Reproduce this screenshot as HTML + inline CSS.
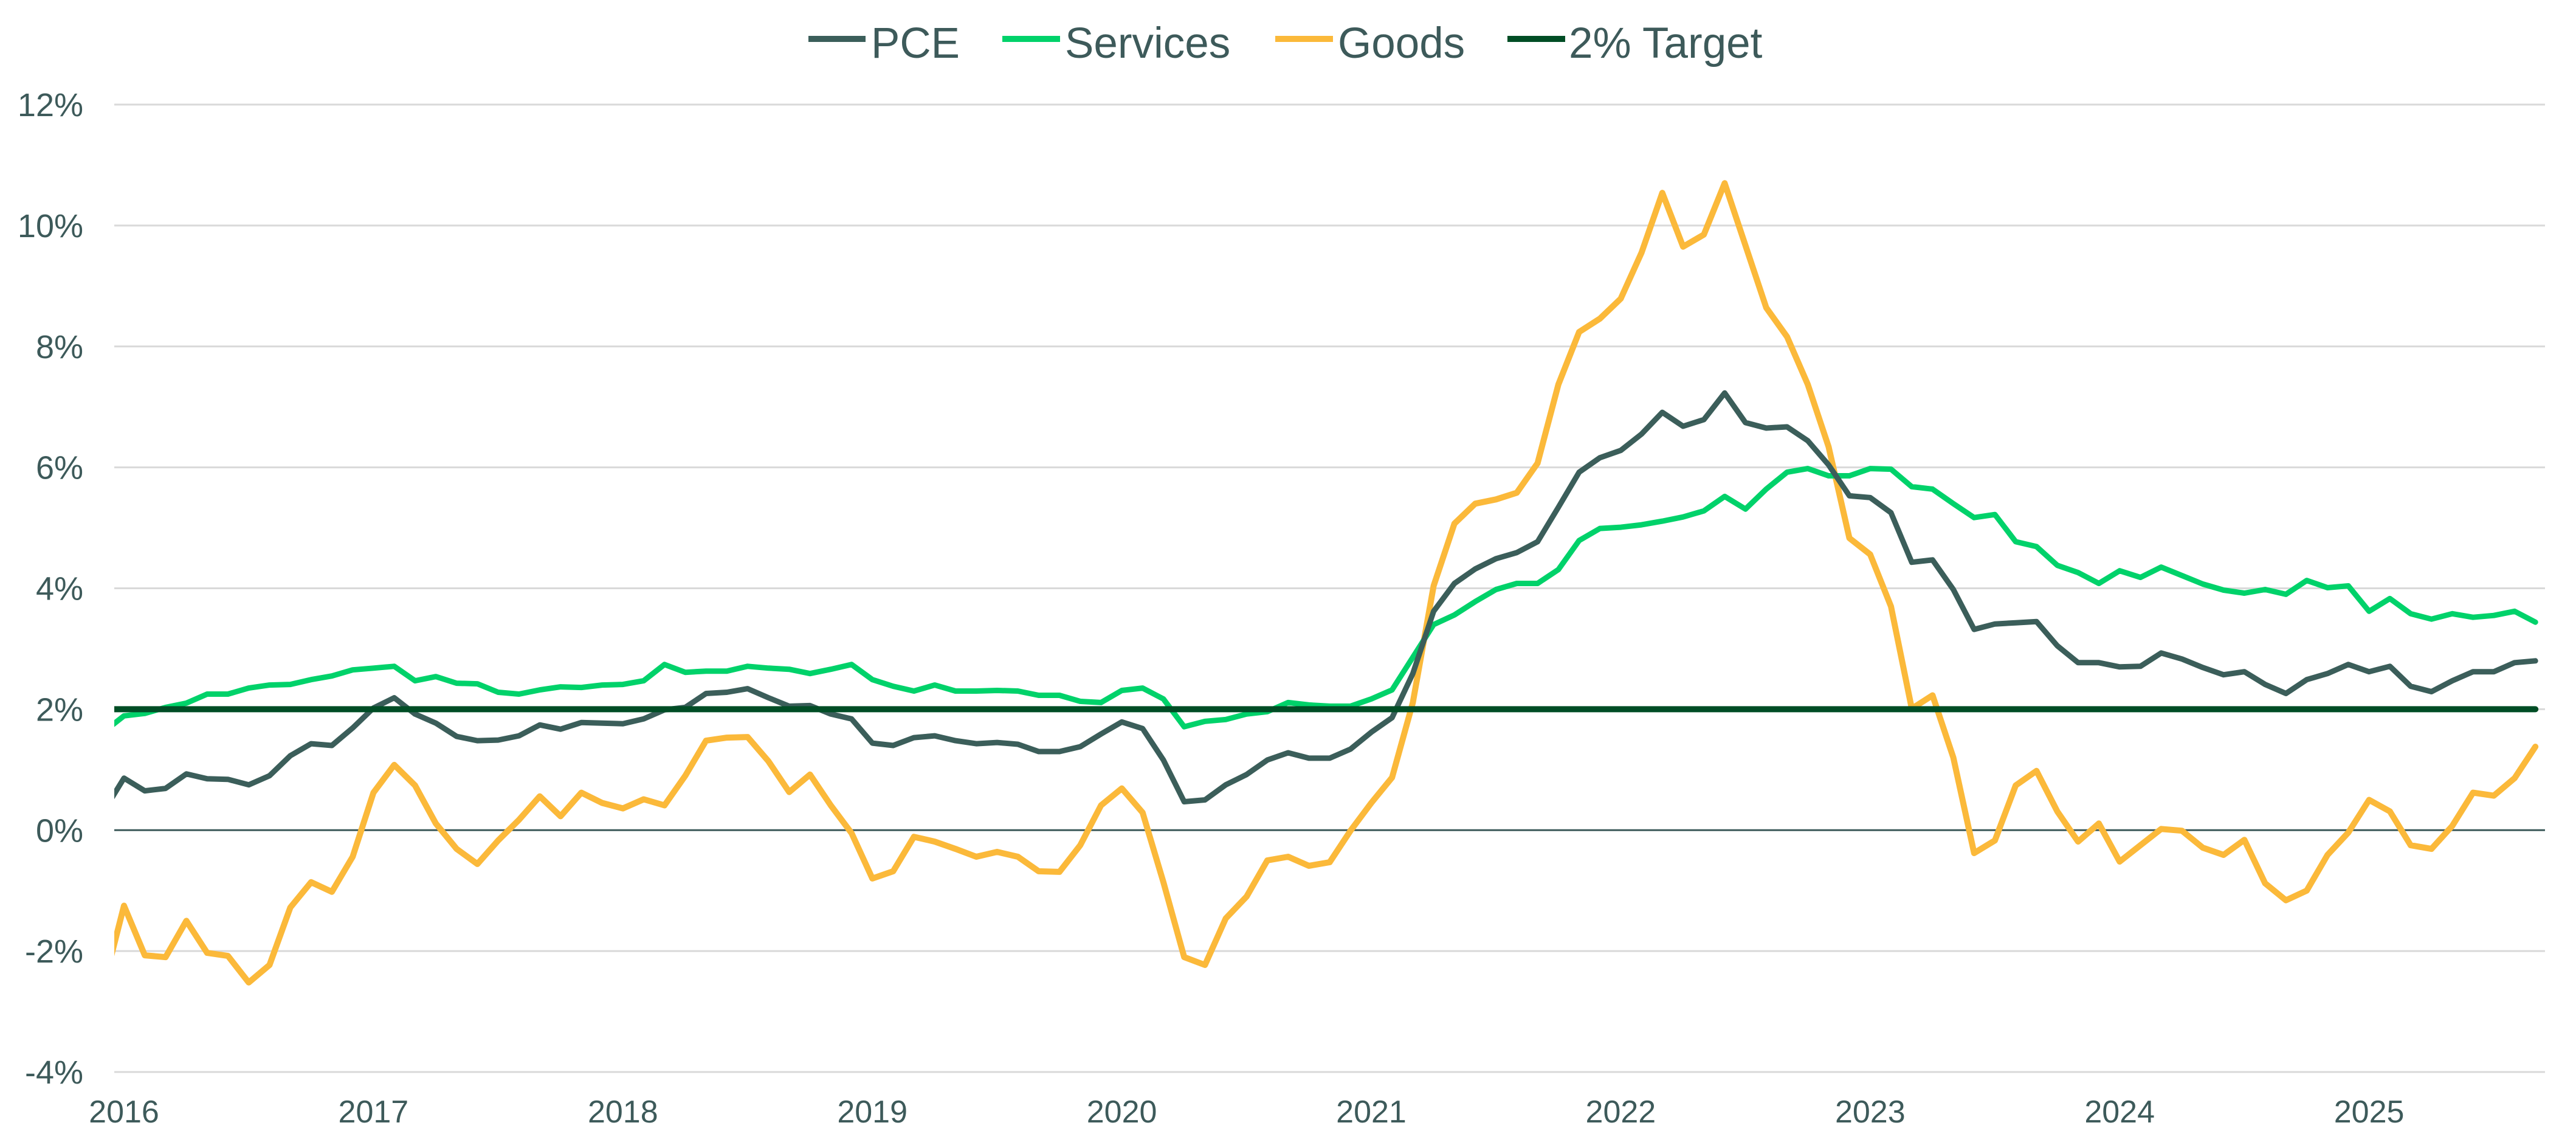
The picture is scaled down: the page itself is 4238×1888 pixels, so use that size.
<!DOCTYPE html>
<html><head><meta charset="utf-8">
<style>
html,body{margin:0;padding:0;background:#fff;}
svg{display:block;font-family:"Liberation Sans",Arial,sans-serif;}
</style></head>
<body>
<svg id="chart" width="4238" height="1888" viewBox="0 0 4238 1888" xmlns="http://www.w3.org/2000/svg">
  <defs><clipPath id="plotclip"><rect x="188" y="100" width="4000" height="1700"/></clipPath></defs>
  <g id="grid"></g>
  <g id="ylabels"></g>
  <g id="xlabels"></g>
  <g id="series" clip-path="url(#plotclip)"></g>
  <g id="legend">
    <line x1="1330" y1="64" x2="1424" y2="64" stroke="#3b5e5a" stroke-width="10"/>
    <text x="1433" y="95" font-size="71" fill="#3d5a5a">PCE</text>
    <line x1="1649" y1="64" x2="1744" y2="64" stroke="#00d26a" stroke-width="10"/>
    <text x="1752" y="95" font-size="71" fill="#3d5a5a">Services</text>
    <line x1="2098" y1="64" x2="2193" y2="64" stroke="#fbb93a" stroke-width="10"/>
    <text x="2201" y="95" font-size="71" fill="#3d5a5a">Goods</text>
    <line x1="2480" y1="64" x2="2575" y2="64" stroke="#004d25" stroke-width="10"/>
    <text x="2581" y="95" font-size="71" fill="#3d5a5a">2% Target</text>
  </g>
</svg>
<script>
const yTicks = [-4, -2, 0, 2, 4, 6, 8, 10, 12];
const yearLabels = ["2016","2017","2018","2019","2020","2021","2022","2023","2024","2025"];
const targetValue = 2;
// Monthly, Dec 2015 .. Sep 2025
const pce = [0.3,0.86,0.65,0.69,0.93,0.85,0.84,0.75,0.9,1.23,1.43,1.4,1.69,2.02,2.19,1.92,1.77,1.55,1.48,1.49,1.56,1.74,1.67,1.78,1.77,1.76,1.84,1.99,2.03,2.26,2.28,2.34,2.19,2.05,2.06,1.92,1.84,1.44,1.4,1.53,1.56,1.48,1.43,1.45,1.42,1.3,1.3,1.38,1.59,1.79,1.68,1.16,0.47,0.5,0.75,0.92,1.16,1.28,1.19,1.19,1.34,1.62,1.86,2.59,3.62,4.08,4.32,4.49,4.59,4.77,5.34,5.92,6.16,6.28,6.55,6.91,6.68,6.79,7.23,6.74,6.65,6.67,6.44,6.04,5.53,5.5,5.25,4.43,4.47,3.98,3.32,3.41,3.43,3.45,3.05,2.77,2.77,2.7,2.71,2.93,2.83,2.69,2.57,2.62,2.41,2.26,2.49,2.59,2.74,2.62,2.71,2.38,2.29,2.47,2.62,2.62,2.77,2.8];
const services = [1.62,1.89,1.93,2.03,2.1,2.25,2.25,2.35,2.4,2.41,2.49,2.55,2.65,2.68,2.71,2.47,2.54,2.43,2.42,2.28,2.25,2.32,2.37,2.36,2.4,2.41,2.47,2.74,2.61,2.63,2.63,2.71,2.68,2.66,2.59,2.66,2.74,2.49,2.38,2.3,2.4,2.3,2.3,2.31,2.3,2.23,2.23,2.13,2.11,2.31,2.35,2.17,1.71,1.8,1.83,1.92,1.96,2.11,2.07,2.05,2.05,2.17,2.32,2.86,3.4,3.56,3.78,3.98,4.08,4.08,4.31,4.79,4.99,5.01,5.05,5.11,5.18,5.28,5.52,5.31,5.64,5.92,5.98,5.86,5.86,5.98,5.97,5.68,5.64,5.4,5.17,5.22,4.77,4.69,4.38,4.26,4.08,4.29,4.18,4.35,4.21,4.07,3.97,3.92,3.98,3.9,4.13,4.01,4.04,3.62,3.83,3.58,3.49,3.58,3.52,3.55,3.62,3.44];
const goods = [-2.6,-1.25,-2.07,-2.1,-1.5,-2.03,-2.08,-2.52,-2.23,-1.28,-0.86,-1.02,-0.44,0.62,1.08,0.74,0.11,-0.31,-0.56,-0.17,0.17,0.56,0.23,0.62,0.45,0.36,0.51,0.41,0.9,1.48,1.53,1.54,1.14,0.63,0.92,0.41,-0.05,-0.8,-0.68,-0.11,-0.19,-0.31,-0.44,-0.36,-0.44,-0.68,-0.69,-0.25,0.41,0.69,0.29,-0.86,-2.1,-2.23,-1.46,-1.1,-0.5,-0.44,-0.59,-0.53,-0.01,0.45,0.87,2.11,4.04,5.07,5.4,5.47,5.58,6.07,7.37,8.24,8.46,8.79,9.55,10.54,9.65,9.85,10.7,9.67,8.64,8.16,7.37,6.34,4.83,4.56,3.7,2.01,2.23,1.2,-0.38,-0.17,0.74,0.98,0.31,-0.19,0.11,-0.52,-0.25,0.02,-0.01,-0.29,-0.41,-0.16,-0.88,-1.16,-1.0,-0.41,-0.04,0.5,0.31,-0.25,-0.31,0.07,0.62,0.57,0.86,1.38];

const NS = "http://www.w3.org/2000/svg";
const plotL = 188, plotR = 4187, yTop = 172, yBot = 1763;
const janX0 = 204, monthW = 34.2;
function xScale(i) { return janX0 + (i - 1) * monthW; } // i=0 is Dec 2015
function yScale(v) { return yBot - (v - (-4)) / 16 * (yBot - yTop); }
function mk(tag, attrs) { const e = document.createElementNS(NS, tag); for (const k in attrs) e.setAttribute(k, attrs[k]); return e; }

const grid = document.getElementById('grid');
const ylab = document.getElementById('ylabels');
yTicks.forEach(t => {
  const y = yScale(t);
  const ln = mk('line', {x1: plotL, x2: plotR, y1: y, y2: y, stroke: t === 0 ? '#3d5a5a' : '#d9d9d9', 'stroke-width': 3});
  
  
  grid.appendChild(ln);
  const tx = mk('text', {x: 137, y: y + 19, 'text-anchor': 'end', 'font-size': 54, fill: '#3d5a5a'});
  tx.textContent = t + '%';
  
  
  ylab.appendChild(tx);
});
const xlab = document.getElementById('xlabels');
yearLabels.forEach((yr, k) => {
  const tx = mk('text', {x: xScale(1 + 12 * k), y: 1846, 'text-anchor': 'middle', 'font-size': 52, fill: '#3d5a5a'});
  tx.textContent = yr;
  
  
  xlab.appendChild(tx);
});

const ser = document.getElementById('series');
function addLine(vals, color, w, name) {
  const d = vals.map((v, i) => (i ? 'L' : 'M') + xScale(i).toFixed(1) + ',' + yScale(v).toFixed(1)).join(' ');
  const p = mk('path', {d: d, fill: 'none', stroke: color, 'stroke-width': w, 'stroke-linejoin': 'round', 'stroke-linecap': 'round'});
  
  
  ser.appendChild(p);
}
addLine(goods, '#fbb93a', 10, 'goods-line');
addLine(services, '#00d26a', 9, 'services-line');
addLine(pce, '#3b5e5a', 9, 'pce-line');
const ty = yScale(targetValue);
const tl = mk('line', {x1: plotL, x2: xScale(pce.length - 1), y1: ty, y2: ty, stroke: '#004d25', 'stroke-width': 10, 'stroke-linecap': 'round'});


ser.appendChild(tl);
</script>
</body></html>
